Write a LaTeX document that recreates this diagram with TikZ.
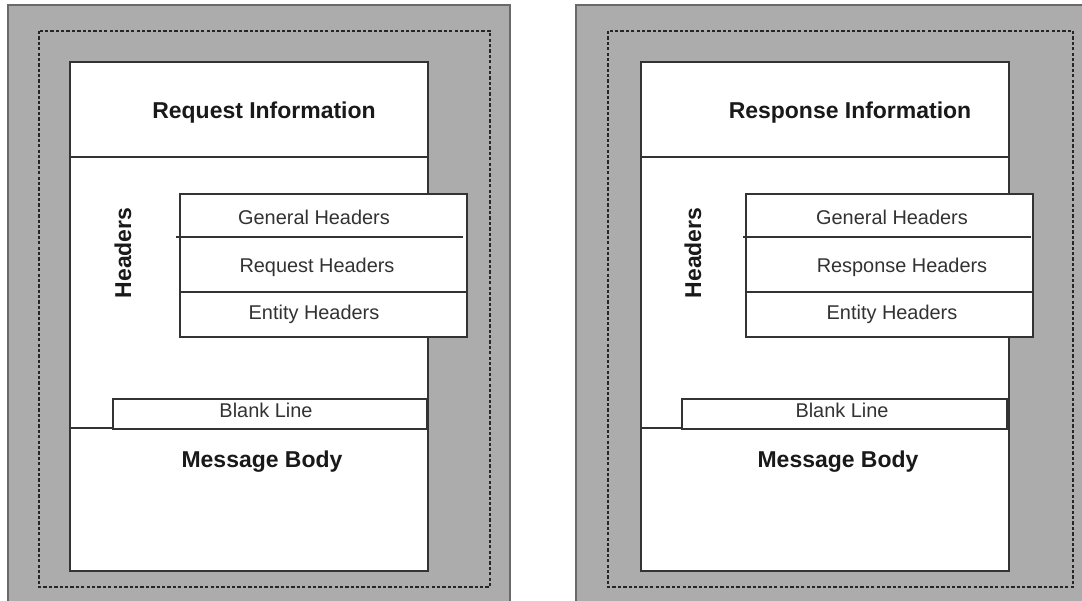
\documentclass[tikz,border=0pt]{standalone}
\usepackage{fontspec}
\setmainfont{Liberation Sans}
\usepackage{tikz}
\usetikzlibrary{calc}
\definecolor{panelgray}{RGB}{172,172,172}
\definecolor{edgegray}{RGB}{105,105,105}
\definecolor{textgray}{RGB}{50,50,50}

\begin{document}
\begin{tikzpicture}[x=0.03cm,y=-0.03cm,
    panel/.style={fill=panelgray,draw=edgegray,line width=1.4pt},
    dashbox/.style={draw=black!85,line width=1.9pt,dash pattern=on 2.8pt off 1.8pt},
    box/.style={fill=white,draw=black!80,line width=1.3pt},
    rule/.style={draw=black!80,line width=1.1pt},
    big/.style={font=\fontsize{19.6}{22}\selectfont\bfseries,text=black!90},
    small/.style={font=\fontsize{17}{20}\selectfont,text=textgray}]
  \clip (0,0) rectangle (1082,601);

  % request side
  \draw[panel] (8,5) rectangle (510,610);
  \draw[dashbox] (39,31) rectangle (490,587);
  \draw[box] (70,62) rectangle (428,571);
  \draw[rule] (70,157) -- (428,157);
  \node[big] (reqinfo) at (264,113) {Request Information};
  \node[big,rotate=90] (reqhdrs) at (123,253) {Headers};
  \draw[box] (180,194) rectangle (467,337);
  \draw[rule] (176,237) -- (463,237);
  \draw[rule] (180,292) -- (467,292);
  \node[small] (reqgen) at (314,217) {General Headers};
  \node[small] (reqreq) at (317,267) {Request Headers};
  \node[small] (reqent) at (314,314) {Entity Headers};
  \draw[rule] (70,428) -- (113,428);
  \draw[box] (113,399) rectangle (427,429);
  \node[small] (reqblank) at (266,410) {Blank Line};
  \node[big] (reqbody) at (262,462) {Message Body};

  % response side
  \draw[panel] (576,5) rectangle (1090,610);
  \draw[dashbox] (608,31) rectangle (1073,587);
  \draw[box] (641,62) rectangle (1009,571);
  \draw[rule] (641,157) -- (1009,157);
  \node[big] (resinfo) at (850,113) {Response Information};
  \node[big,rotate=90] (reshdrs) at (693,253) {Headers};
  \draw[box] (746,194) rectangle (1033,337);
  \draw[rule] (743,237) -- (1031,237);
  \draw[rule] (746,292) -- (1033,292);
  \node[small] (resgen) at (892,217) {General Headers};
  \node[small] (resres) at (902,267) {Response Headers};
  \node[small] (resent) at (892,314) {Entity Headers};
  \draw[rule] (641,428) -- (682,428);
  \draw[box] (682,399) rectangle (1007,429);
  \node[small] (resblank) at (842,410) {Blank Line};
  \node[big] (resbody) at (838,462) {Message Body};
\end{tikzpicture}
\end{document}
